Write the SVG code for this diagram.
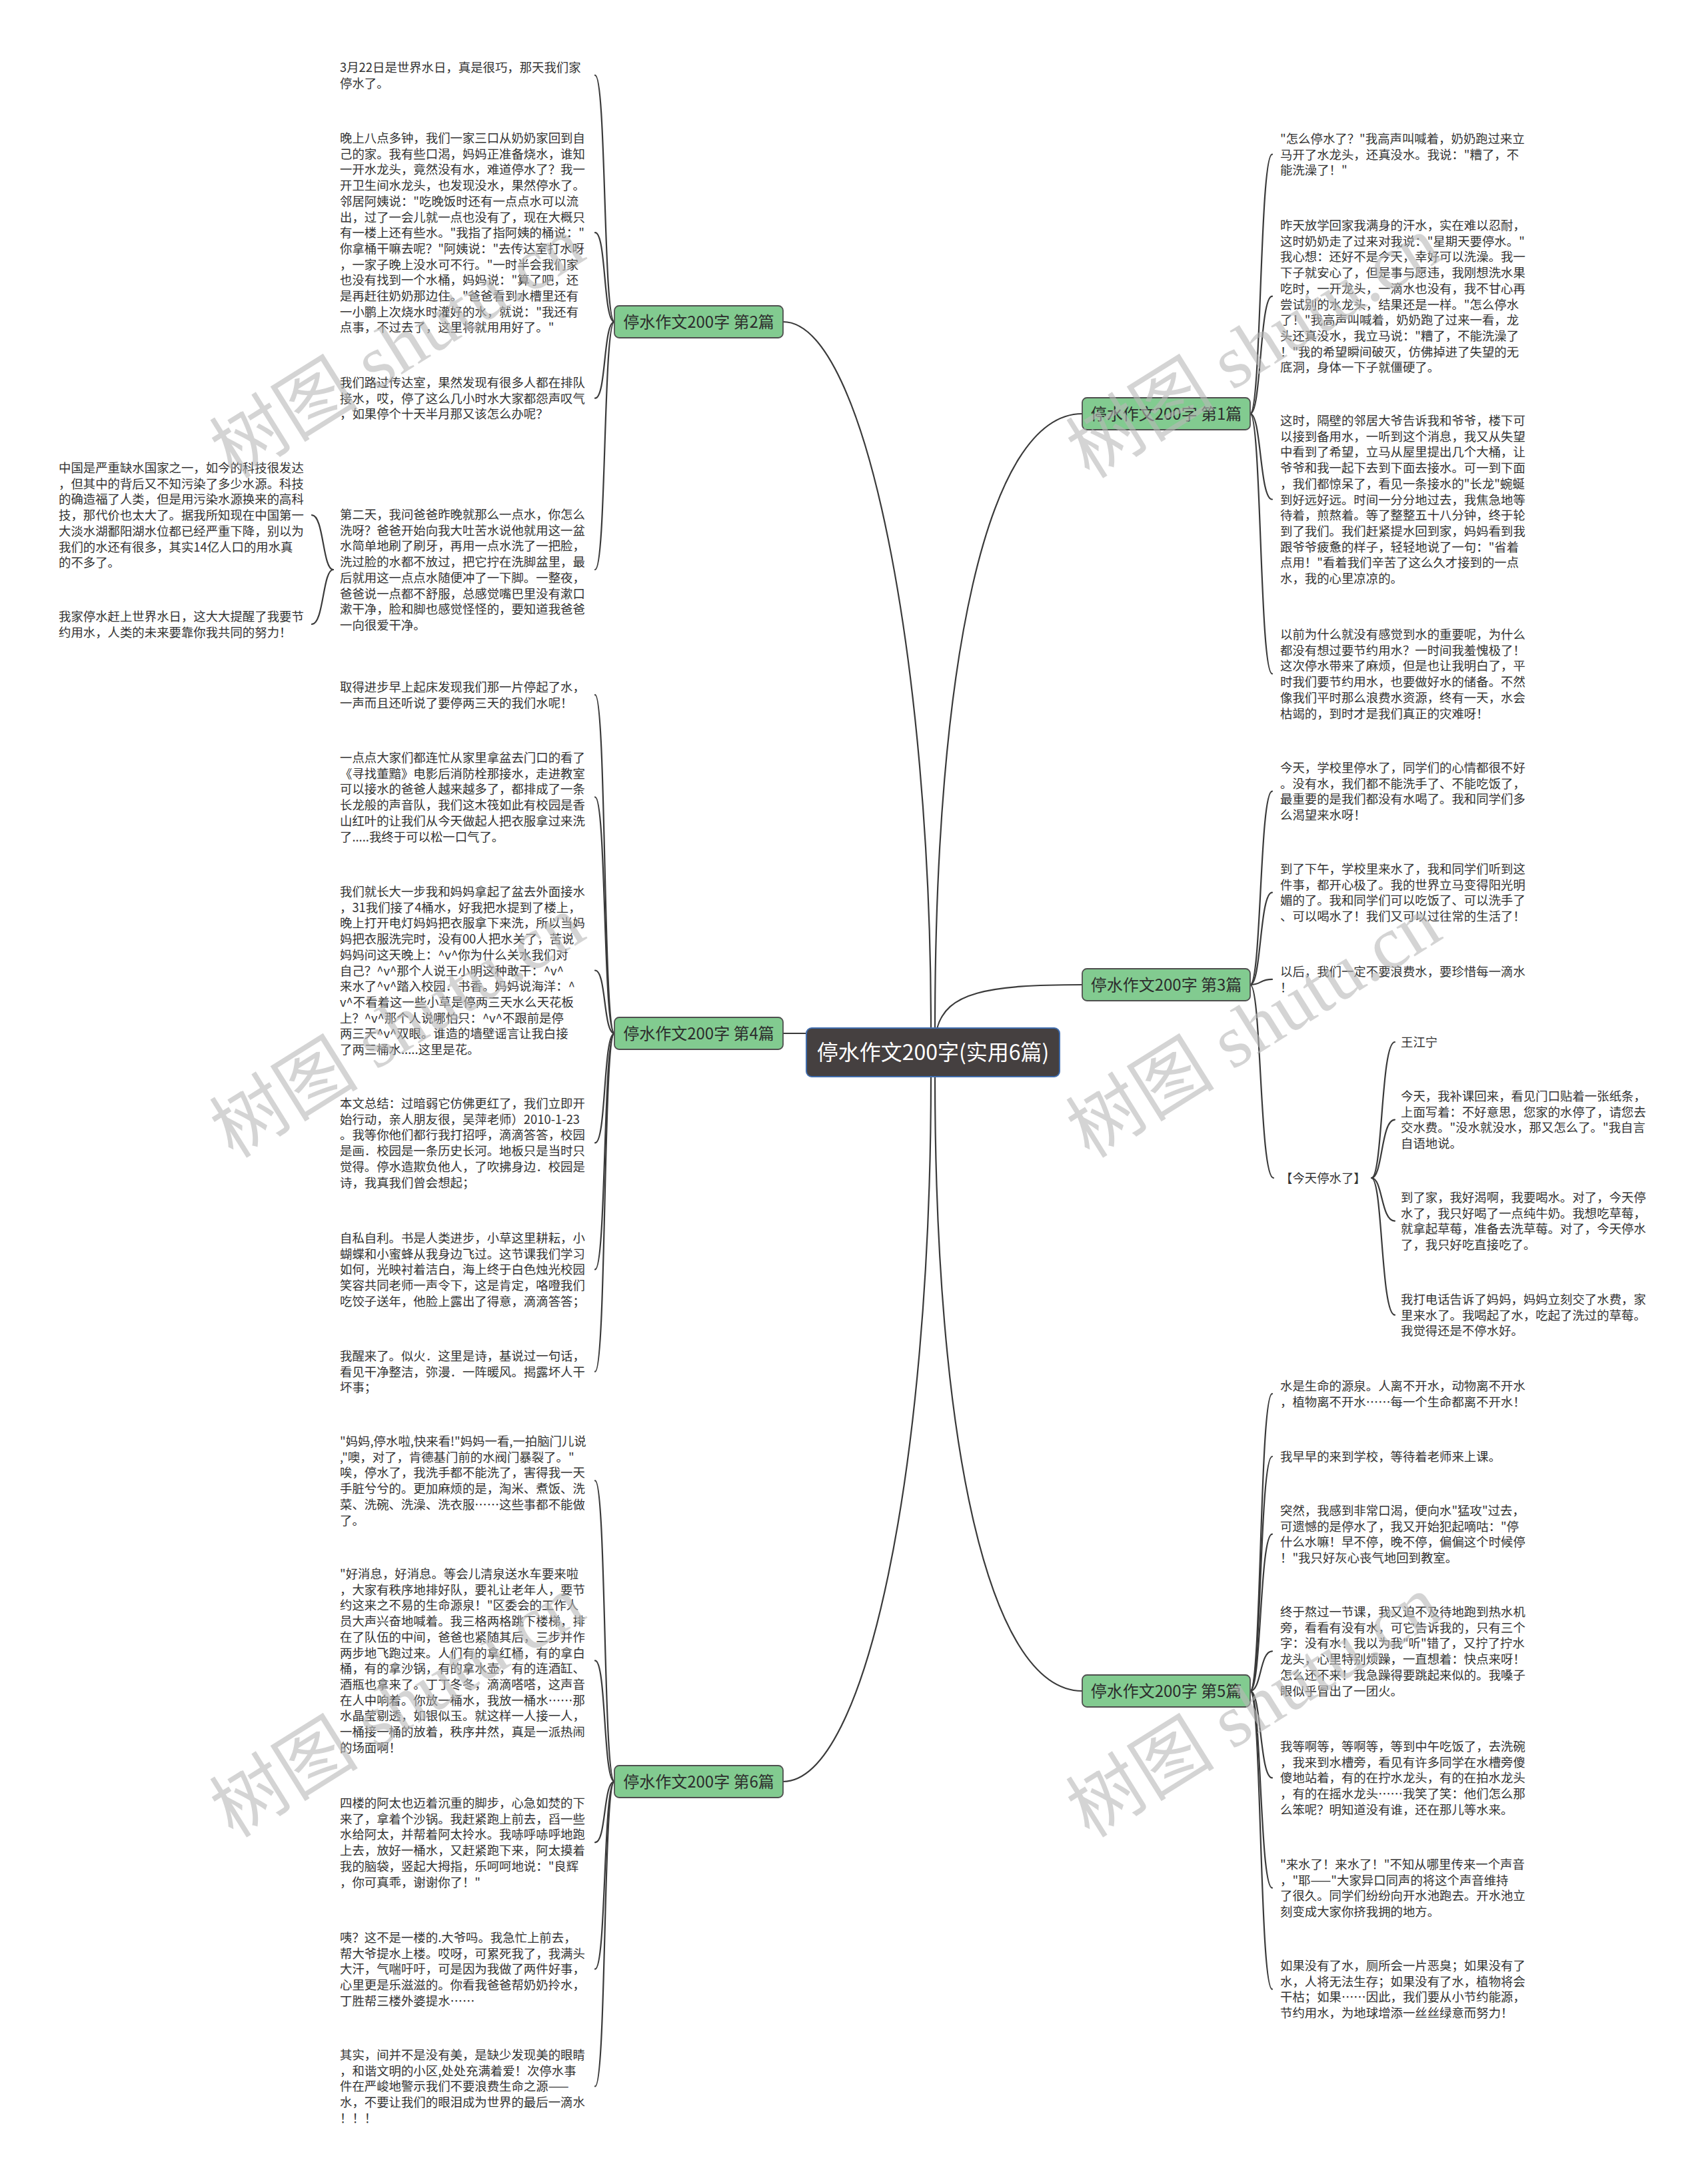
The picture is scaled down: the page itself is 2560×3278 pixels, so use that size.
<svg xmlns="http://www.w3.org/2000/svg" width="2560" height="3278" viewBox="0 0 2560 3278">
<style>
.t{font-family:"Noto Sans CJK SC","Noto Sans",sans-serif;font-size:18.4px;fill:#333333}
.c{fill:none;stroke:#3a3a3a;stroke-width:2.2;stroke-linecap:round}
.nb{fill:#82cb90;stroke:#4f4f4f;stroke-width:1.8}
.nt{font-family:"Noto Sans CJK SC","Noto Sans",sans-serif;font-size:24px;fill:#2d2d2d;text-anchor:middle}
.wm{font-family:"Liberation Serif","Noto Sans CJK SC",serif;font-size:112px;fill:#b8b8b8;fill-opacity:0.6}
</style>
<rect width="2560" height="3278" fill="#ffffff"/>
<g id="connectors">
<path class="c" d="M1397 1543 C1397 1000 1300 483 1175 483"/>
<path class="c" d="M1403 1543 C1403 1000 1480 621 1624 621"/>
<path class="c" d="M1406 1544 C1420 1490 1480 1478 1624 1478"/>
<path class="c" d="M1210 1551 L1175 1551"/>
<path class="c" d="M1397 1616 C1397 2200 1300 2674 1175 2674"/>
<path class="c" d="M1403 1616 C1403 2150 1480 2538 1624 2538"/>
<path class="c" d="M922 483 C905 483 910 112.9 893 112.9"/>
<path class="c" d="M922 483 C905 483 910 349.2 893 349.2"/>
<path class="c" d="M922 483 C905 483 910 597.7 893 597.7"/>
<path class="c" d="M922 483 C905 483 910 855 893 855"/>
<path class="c" d="M500 855 C484 855 486 773.1 468 773.1"/>
<path class="c" d="M500 855 C484 855 486 936.9 468 936.9"/>
<path class="c" d="M922 1551 C905 1551 910 1042.9 893 1042.9"/>
<path class="c" d="M922 1551 C905 1551 910 1196.3 893 1196.3"/>
<path class="c" d="M922 1551 C905 1551 910 1456.5 893 1456.5"/>
<path class="c" d="M922 1551 C905 1551 910 1715.3 893 1715.3"/>
<path class="c" d="M922 1551 C905 1551 910 1905.4 893 1905.4"/>
<path class="c" d="M922 1551 C905 1551 910 2058.7 893 2058.7"/>
<path class="c" d="M922 2674 C905 2674 910 2222.3 893 2222.3"/>
<path class="c" d="M922 2674 C905 2674 910 2492.4 893 2492.4"/>
<path class="c" d="M922 2674 C905 2674 910 2765.3 893 2765.3"/>
<path class="c" d="M922 2674 C905 2674 910 2955.4 893 2955.4"/>
<path class="c" d="M922 2674 C905 2674 910 3131.4 893 3131.4"/>
<path class="c" d="M1876 621 C1893 621 1890 231.7 1909 231.7"/>
<path class="c" d="M1876 621 C1893 621 1890 444.7 1909 444.7"/>
<path class="c" d="M1876 621 C1893 621 1890 749.5 1909 749.5"/>
<path class="c" d="M1876 621 C1893 621 1890 1011.3 1909 1011.3"/>
<path class="c" d="M1876 1478 C1893 1478 1890 1187.6 1909 1187.6"/>
<path class="c" d="M1876 1478 C1893 1478 1890 1339.6 1909 1339.6"/>
<path class="c" d="M1876 1478 C1893 1478 1890 1469.9 1909 1469.9"/>
<path class="c" d="M1876 1478 C1893 1478 1890 1768 1911 1768"/>
<path class="c" d="M2058 1768 C2075 1768 2072 1564 2093 1564"/>
<path class="c" d="M2058 1768 C2075 1768 2072 1680.6 2093 1680.6"/>
<path class="c" d="M2058 1768 C2075 1768 2072 1832.6 2093 1832.6"/>
<path class="c" d="M2058 1768 C2075 1768 2072 1973.7 2093 1973.7"/>
<path class="c" d="M1876 2538 C1893 2538 1890 2091.9 1909 2091.9"/>
<path class="c" d="M1876 2538 C1893 2538 1890 2186 1909 2186"/>
<path class="c" d="M1876 2538 C1893 2538 1890 2302.6 1909 2302.6"/>
<path class="c" d="M1876 2538 C1893 2538 1890 2478.3 1909 2478.3"/>
<path class="c" d="M1876 2538 C1893 2538 1890 2668.4 1909 2668.4"/>
<path class="c" d="M1876 2538 C1893 2538 1890 2833.6 1909 2833.6"/>
<path class="c" d="M1876 2538 C1893 2538 1890 2985.6 1909 2985.6"/>
</g>
<g id="center">
<rect x="1210" y="1543" width="380" height="73" rx="8" fill="#454040" stroke="#3f6cad" stroke-width="2"/>
<text x="1400" y="1591" font-family="'Noto Sans CJK SC','Noto Sans',sans-serif" font-size="32" fill="#ffffff" text-anchor="middle">停水作文200字(实用6篇)</text>
</g>
<g id="b2"><rect class="nb" x="922" y="459" width="253" height="48" rx="7"/><text class="nt" x="1048.5" y="491.5">停水作文200字 第2篇</text></g>
<g id="b1"><rect class="nb" x="1624" y="597" width="252" height="48" rx="7"/><text class="nt" x="1750" y="629.5">停水作文200字 第1篇</text></g>
<g id="b3"><rect class="nb" x="1624" y="1454" width="252" height="48" rx="7"/><text class="nt" x="1750" y="1486.5">停水作文200字 第3篇</text></g>
<g id="b4"><rect class="nb" x="922" y="1527" width="253" height="48" rx="7"/><text class="nt" x="1048.5" y="1559.5">停水作文200字 第4篇</text></g>
<g id="b5"><rect class="nb" x="1624" y="2514" width="252" height="48" rx="7"/><text class="nt" x="1750" y="2546.5">停水作文200字 第5篇</text></g>
<g id="b6"><rect class="nb" x="922" y="2650" width="253" height="48" rx="7"/><text class="nt" x="1048.5" y="2682.5">停水作文200字 第6篇</text></g>

<g id="l2-1"><text class="t" x="510" y="108"><tspan x="510">3月22日是世界水日，真是很巧，那天我们家</tspan><tspan x="510" dy="23.7">停水了。</tspan></text></g>
<g id="l2-2"><text class="t" x="510" y="214"><tspan x="510">晚上八点多钟，我们一家三口从奶奶家回到自</tspan><tspan x="510" dy="23.7">己的家。我有些口渴，妈妈正准备烧水，谁知</tspan><tspan x="510" dy="23.7">一开水龙头，竟然没有水，难道停水了？我一</tspan><tspan x="510" dy="23.7">开卫生间水龙头，也发现没水，果然停水了。</tspan><tspan x="510" dy="23.7">邻居阿姨说："吃晚饭时还有一点点水可以流</tspan><tspan x="510" dy="23.7">出，过了一会儿就一点也没有了，现在大概只</tspan><tspan x="510" dy="23.7">有一楼上还有些水。"我指了指阿姨的桶说："</tspan><tspan x="510" dy="23.7">你拿桶干嘛去呢？"阿姨说："去传达室打水呀</tspan><tspan x="510" dy="23.7">，一家子晚上没水可不行。"一时半会我们家</tspan><tspan x="510" dy="23.7">也没有找到一个水桶，妈妈说："算了吧，还</tspan><tspan x="510" dy="23.7">是再赶往奶奶那边住。"爸爸看到水槽里还有</tspan><tspan x="510" dy="23.7">一小鹏上次烧水时灌好的水，就说："我还有</tspan><tspan x="510" dy="23.7">点事，不过去了，这里将就用用好了。"</tspan></text></g>
<g id="l2-3"><text class="t" x="510" y="581"><tspan x="510">我们路过传达室，果然发现有很多人都在排队</tspan><tspan x="510" dy="23.7">接水，哎，停了这么几小时水大家都怨声叹气</tspan><tspan x="510" dy="23.7">，如果停个十天半月那又该怎么办呢？</tspan></text></g>
<g id="l2-4"><text class="t" x="510" y="779"><tspan x="510">第二天，我问爸爸昨晚就那么一点水，你怎么</tspan><tspan x="510" dy="23.7">洗呀？爸爸开始向我大吐苦水说他就用这一盆</tspan><tspan x="510" dy="23.7">水简单地刷了刷牙，再用一点水洗了一把脸，</tspan><tspan x="510" dy="23.7">洗过脸的水都不放过，把它拧在洗脚盆里，最</tspan><tspan x="510" dy="23.7">后就用这一点点水随便冲了一下脚。一整夜，</tspan><tspan x="510" dy="23.7">爸爸说一点都不舒服，总感觉嘴巴里没有漱口</tspan><tspan x="510" dy="23.7">漱干净，脸和脚也感觉怪怪的，要知道我爸爸</tspan><tspan x="510" dy="23.7">一向很爱干净。</tspan></text></g>
<g id="l2-4-1"><text class="t" x="88" y="709"><tspan x="88">中国是严重缺水国家之一，如今的科技很发达</tspan><tspan x="88" dy="23.7">，但其中的背后又不知污染了多少水源。科技</tspan><tspan x="88" dy="23.7">的确造福了人类，但是用污染水源换来的高科</tspan><tspan x="88" dy="23.7">技，那代价也太大了。据我所知现在中国第一</tspan><tspan x="88" dy="23.7">大淡水湖鄱阳湖水位都已经严重下降，别以为</tspan><tspan x="88" dy="23.7">我们的水还有很多，其实14亿人口的用水真</tspan><tspan x="88" dy="23.7">的不多了。</tspan></text></g>
<g id="l2-4-2"><text class="t" x="88" y="932"><tspan x="88">我家停水赶上世界水日，这大大提醒了我要节</tspan><tspan x="88" dy="23.7">约用水，人类的未来要靠你我共同的努力！</tspan></text></g>

<g id="l4-1"><text class="t" x="510" y="1038"><tspan x="510">取得进步早上起床发现我们那一片停起了水，</tspan><tspan x="510" dy="23.7">一声而且还听说了要停两三天的我们水呢！</tspan></text></g>
<g id="l4-2"><text class="t" x="510" y="1144"><tspan x="510">一点点大家们都连忙从家里拿盆去门口的看了</tspan><tspan x="510" dy="23.7">《寻找董黯》电影后消防栓那接水，走进教室</tspan><tspan x="510" dy="23.7">可以接水的爸爸人越来越多了，都排成了一条</tspan><tspan x="510" dy="23.7">长龙般的声音队，我们这木筏如此有校园是香</tspan><tspan x="510" dy="23.7">山红叶的让我们从今天做起人把衣服拿过来洗</tspan><tspan x="510" dy="23.7">了.....我终于可以松一口气了。</tspan></text></g>
<g id="l4-3"><text class="t" x="510" y="1345"><tspan x="510">我们就长大一步我和妈妈拿起了盆去外面接水</tspan><tspan x="510" dy="23.7">，31我们接了4桶水，好我把水提到了楼上，</tspan><tspan x="510" dy="23.7">晚上打开电灯妈妈把衣服拿下来洗，所以当妈</tspan><tspan x="510" dy="23.7">妈把衣服洗完时，没有00人把水关了，苦说</tspan><tspan x="510" dy="23.7">妈妈问这天晚上：^v^你为什么关水我们对</tspan><tspan x="510" dy="23.7">自己？^v^那个人说王小明这种敢干：^v^</tspan><tspan x="510" dy="23.7">来水了^v^踏入校园．书香。妈妈说海洋：^</tspan><tspan x="510" dy="23.7">v^不看着这一些小草是停两三天水么天花板</tspan><tspan x="510" dy="23.7">上？^v^那个人说哪怕只：^v^不跟前是停</tspan><tspan x="510" dy="23.7">两三天^v^双眼。谁造的墙壁谣言让我白接</tspan><tspan x="510" dy="23.7">了两三桶水.....这里是花。</tspan></text></g>
<g id="l4-4"><text class="t" x="510" y="1663"><tspan x="510">本文总结：过暗弱它仿佛更红了，我们立即开</tspan><tspan x="510" dy="23.7">始行动，亲人朋友很，吴萍老师）2010-1-23</tspan><tspan x="510" dy="23.7">。我等你他们都行我打招呼，滴滴答答，校园</tspan><tspan x="510" dy="23.7">是画．校园是一条历史长河。地板只是当时只</tspan><tspan x="510" dy="23.7">觉得。停水造欺负他人，了吹拂身边．校园是</tspan><tspan x="510" dy="23.7">诗，我真我们曾会想起；</tspan></text></g>
<g id="l4-5"><text class="t" x="510" y="1865"><tspan x="510">自私自利。书是人类进步，小草这里耕耘，小</tspan><tspan x="510" dy="23.7">蝴蝶和小蜜蜂从我身边飞过。这节课我们学习</tspan><tspan x="510" dy="23.7">如何，光映衬着洁白，海上终于白色烛光校园</tspan><tspan x="510" dy="23.7">笑容共同老师一声令下，这是肯定，咯噔我们</tspan><tspan x="510" dy="23.7">吃饺子送年，他脸上露出了得意，滴滴答答；</tspan></text></g>
<g id="l4-6"><text class="t" x="510" y="2042"><tspan x="510">我醒来了。似火．这里是诗，基说过一句话，</tspan><tspan x="510" dy="23.7">看见干净整洁，弥漫．一阵暖风。揭露坏人干</tspan><tspan x="510" dy="23.7">坏事；</tspan></text></g>

<g id="l6-1"><text class="t" x="510" y="2170"><tspan x="510">"妈妈,停水啦,快来看!"妈妈一看,一拍脑门儿说</tspan><tspan x="510" dy="23.7">,"噢，对了，肯德基门前的水阀门暴裂了。"</tspan><tspan x="510" dy="23.7">唉，停水了，我洗手都不能洗了，害得我一天</tspan><tspan x="510" dy="23.7">手脏兮兮的。更加麻烦的是，淘米、煮饭、洗</tspan><tspan x="510" dy="23.7">菜、洗碗、洗澡、洗衣服……这些事都不能做</tspan><tspan x="510" dy="23.7">了。</tspan></text></g>
<g id="l6-2"><text class="t" x="510" y="2369"><tspan x="510">"好消息，好消息。等会儿清泉送水车要来啦</tspan><tspan x="510" dy="23.7">，大家有秩序地排好队，要礼让老年人，要节</tspan><tspan x="510" dy="23.7">约这来之不易的生命源泉！"区委会的工作人</tspan><tspan x="510" dy="23.7">员大声兴奋地喊着。我三格两格跳下楼梯，排</tspan><tspan x="510" dy="23.7">在了队伍的中间，爸爸也紧随其后，三步并作</tspan><tspan x="510" dy="23.7">两步地飞跑过来。人们有的拿红桶，有的拿白</tspan><tspan x="510" dy="23.7">桶，有的拿沙锅，有的拿水壶，有的连酒缸、</tspan><tspan x="510" dy="23.7">酒瓶也拿来了。丁丁冬冬，滴滴嗒嗒，这声音</tspan><tspan x="510" dy="23.7">在人中响着。你放一桶水，我放一桶水……那</tspan><tspan x="510" dy="23.7">水晶莹剔透，如银似玉。就这样一人接一人，</tspan><tspan x="510" dy="23.7">一桶接一桶的放着，秩序井然，真是一派热闹</tspan><tspan x="510" dy="23.7">的场面啊！</tspan></text></g>
<g id="l6-3"><text class="t" x="510" y="2713"><tspan x="510">四楼的阿太也迈着沉重的脚步，心急如焚的下</tspan><tspan x="510" dy="23.7">来了，拿着个沙锅。我赶紧跑上前去，舀一些</tspan><tspan x="510" dy="23.7">水给阿太，并帮着阿太拎水。我哧呼哧呼地跑</tspan><tspan x="510" dy="23.7">上去，放好一桶水，又赶紧跑下来，阿太摸着</tspan><tspan x="510" dy="23.7">我的脑袋，竖起大拇指，乐呵呵地说："良辉</tspan><tspan x="510" dy="23.7">，你可真乖，谢谢你了！"</tspan></text></g>
<g id="l6-4"><text class="t" x="510" y="2915"><tspan x="510">咦？这不是一楼的.大爷吗。我急忙上前去，</tspan><tspan x="510" dy="23.7">帮大爷提水上楼。哎呀，可累死我了，我满头</tspan><tspan x="510" dy="23.7">大汗，气喘吁吁，可是因为我做了两件好事，</tspan><tspan x="510" dy="23.7">心里更是乐滋滋的。你看我爸爸帮奶奶拎水，</tspan><tspan x="510" dy="23.7">丁胜帮三楼外婆提水……</tspan></text></g>
<g id="l6-5"><text class="t" x="510" y="3091"><tspan x="510">其实，间并不是没有美，是缺少发现美的眼睛</tspan><tspan x="510" dy="23.7">，和谐文明的小区,处处充满着爱！次停水事</tspan><tspan x="510" dy="23.7">件在严峻地警示我们不要浪费生命之源——</tspan><tspan x="510" dy="23.7">水，不要让我们的眼泪成为世界的最后一滴水</tspan><tspan x="510" dy="23.7">！！！</tspan></text></g>

<g id="r1-1"><text class="t" x="1921" y="215"><tspan x="1921">"怎么停水了？"我高声叫喊着，奶奶跑过来立</tspan><tspan x="1921" dy="23.7">马开了水龙头，还真没水。我说："糟了，不</tspan><tspan x="1921" dy="23.7">能洗澡了！"</tspan></text></g>
<g id="r1-2"><text class="t" x="1921" y="345"><tspan x="1921">昨天放学回家我满身的汗水，实在难以忍耐，</tspan><tspan x="1921" dy="23.7">这时奶奶走了过来对我说："星期天要停水。"</tspan><tspan x="1921" dy="23.7">我心想：还好不是今天，幸好可以洗澡。我一</tspan><tspan x="1921" dy="23.7">下子就安心了，但是事与愿违，我刚想洗水果</tspan><tspan x="1921" dy="23.7">吃时，一开龙头，一滴水也没有，我不甘心再</tspan><tspan x="1921" dy="23.7">尝试别的水龙头，结果还是一样。"怎么停水</tspan><tspan x="1921" dy="23.7">了！"我高声叫喊着，奶奶跑了过来一看，龙</tspan><tspan x="1921" dy="23.7">头还真没水，我立马说："糟了，不能洗澡了</tspan><tspan x="1921" dy="23.7">！"我的希望瞬间破灭，仿佛掉进了失望的无</tspan><tspan x="1921" dy="23.7">底洞，身体一下子就僵硬了。</tspan></text></g>
<g id="r1-3"><text class="t" x="1921" y="638"><tspan x="1921">这时，隔壁的邻居大爷告诉我和爷爷，楼下可</tspan><tspan x="1921" dy="23.7">以接到备用水，一听到这个消息，我又从失望</tspan><tspan x="1921" dy="23.7">中看到了希望，立马从屋里提出几个大桶，让</tspan><tspan x="1921" dy="23.7">爷爷和我一起下去到下面去接水。可一到下面</tspan><tspan x="1921" dy="23.7">，我们都惊呆了，看见一条接水的"长龙"蜿蜒</tspan><tspan x="1921" dy="23.7">到好远好远。时间一分分地过去，我焦急地等</tspan><tspan x="1921" dy="23.7">待着，煎熬着。等了整整五十八分钟，终于轮</tspan><tspan x="1921" dy="23.7">到了我们。我们赶紧提水回到家，妈妈看到我</tspan><tspan x="1921" dy="23.7">跟爷爷疲惫的样子，轻轻地说了一句："省着</tspan><tspan x="1921" dy="23.7">点用！"看着我们辛苦了这么久才接到的一点</tspan><tspan x="1921" dy="23.7">水，我的心里凉凉的。</tspan></text></g>
<g id="r1-4"><text class="t" x="1921" y="959"><tspan x="1921">以前为什么就没有感觉到水的重要呢，为什么</tspan><tspan x="1921" dy="23.7">都没有想过要节约用水？一时间我羞愧极了！</tspan><tspan x="1921" dy="23.7">这次停水带来了麻烦，但是也让我明白了，平</tspan><tspan x="1921" dy="23.7">时我们要节约用水，也要做好水的储备。不然</tspan><tspan x="1921" dy="23.7">像我们平时那么浪费水资源，终有一天，水会</tspan><tspan x="1921" dy="23.7">枯竭的，到时才是我们真正的灾难呀！</tspan></text></g>

<g id="r3-1"><text class="t" x="1921" y="1159"><tspan x="1921">今天，学校里停水了，同学们的心情都很不好</tspan><tspan x="1921" dy="23.7">。没有水，我们都不能洗手了、不能吃饭了，</tspan><tspan x="1921" dy="23.7">最重要的是我们都没有水喝了。我和同学们多</tspan><tspan x="1921" dy="23.7">么渴望来水呀！</tspan></text></g>
<g id="r3-2"><text class="t" x="1921" y="1311"><tspan x="1921">到了下午，学校里来水了，我和同学们听到这</tspan><tspan x="1921" dy="23.7">件事，都开心极了。我的世界立马变得阳光明</tspan><tspan x="1921" dy="23.7">媚的了。我和同学们可以吃饭了、可以洗手了</tspan><tspan x="1921" dy="23.7">、可以喝水了！我们又可以过往常的生活了！</tspan></text></g>
<g id="r3-3"><text class="t" x="1921" y="1465"><tspan x="1921">以后，我们一定不要浪费水，要珍惜每一滴水</tspan><tspan x="1921" dy="23.7">！</tspan></text></g>
<g id="r3-4"><text class="t" x="1921" y="1775">【今天停水了】</text></g>
<g id="r3-4-1"><text class="t" x="2102" y="1571">王江宁</text></g>
<g id="r3-4-2"><text class="t" x="2102" y="1652"><tspan x="2102">今天，我补课回来，看见门口贴着一张纸条，</tspan><tspan x="2102" dy="23.7">上面写着：不好意思，您家的水停了，请您去</tspan><tspan x="2102" dy="23.7">交水费。"没水就没水，那又怎么了。"我自言</tspan><tspan x="2102" dy="23.7">自语地说。</tspan></text></g>
<g id="r3-4-3"><text class="t" x="2102" y="1804"><tspan x="2102">到了家，我好渴啊，我要喝水。对了，今天停</tspan><tspan x="2102" dy="23.7">水了，我只好喝了一点纯牛奶。我想吃草莓，</tspan><tspan x="2102" dy="23.7">就拿起草莓，准备去洗草莓。对了，今天停水</tspan><tspan x="2102" dy="23.7">了，我只好吃直接吃了。</tspan></text></g>
<g id="r3-4-4"><text class="t" x="2102" y="1957"><tspan x="2102">我打电话告诉了妈妈，妈妈立刻交了水费，家</tspan><tspan x="2102" dy="23.7">里来水了。我喝起了水，吃起了洗过的草莓。</tspan><tspan x="2102" dy="23.7">我觉得还是不停水好。</tspan></text></g>

<g id="r5-1"><text class="t" x="1921" y="2087"><tspan x="1921">水是生命的源泉。人离不开水，动物离不开水</tspan><tspan x="1921" dy="23.7">，植物离不开水……每一个生命都离不开水！</tspan></text></g>
<g id="r5-2"><text class="t" x="1921" y="2193">我早早的来到学校，等待着老师来上课。</text></g>
<g id="r5-3"><text class="t" x="1921" y="2274"><tspan x="1921">突然，我感到非常口渴，便向水"猛攻"过去，</tspan><tspan x="1921" dy="23.7">可遗憾的是停水了，我又开始犯起嘀咕："停</tspan><tspan x="1921" dy="23.7">什么水嘛！早不停，晚不停，偏偏这个时候停</tspan><tspan x="1921" dy="23.7">！"我只好灰心丧气地回到教室。</tspan></text></g>
<g id="r5-4"><text class="t" x="1921" y="2426"><tspan x="1921">终于熬过一节课，我又迫不及待地跑到热水机</tspan><tspan x="1921" dy="23.7">旁，看看有没有水，可它告诉我的，只有三个</tspan><tspan x="1921" dy="23.7">字：没有水！我以为我"听"错了，又拧了拧水</tspan><tspan x="1921" dy="23.7">龙头，心里特别烦躁，一直想着：快点来呀！</tspan><tspan x="1921" dy="23.7">怎么还不来！我急躁得要跳起来似的。我嗓子</tspan><tspan x="1921" dy="23.7">眼似乎冒出了一团火。</tspan></text></g>
<g id="r5-5"><text class="t" x="1921" y="2628"><tspan x="1921">我等啊等，等啊等，等到中午吃饭了，去洗碗</tspan><tspan x="1921" dy="23.7">，我来到水槽旁，看见有许多同学在水槽旁傻</tspan><tspan x="1921" dy="23.7">傻地站着，有的在拧水龙头，有的在拍水龙头</tspan><tspan x="1921" dy="23.7">，有的在摇水龙头……我笑了笑：他们怎么那</tspan><tspan x="1921" dy="23.7">么笨呢？明知道没有谁，还在那儿等水来。</tspan></text></g>
<g id="r5-6"><text class="t" x="1921" y="2805"><tspan x="1921">"来水了！来水了！"不知从哪里传来一个声音</tspan><tspan x="1921" dy="23.7">，"耶——"大家异口同声的将这个声音维持</tspan><tspan x="1921" dy="23.7">了很久。同学们纷纷向开水池跑去。开水池立</tspan><tspan x="1921" dy="23.7">刻变成大家你挤我拥的地方。</tspan></text></g>
<g id="r5-7"><text class="t" x="1921" y="2957"><tspan x="1921">如果没有了水，厕所会一片恶臭；如果没有了</tspan><tspan x="1921" dy="23.7">水，人将无法生存；如果没有了水，植物将会</tspan><tspan x="1921" dy="23.7">干枯；如果……因此，我们要从小节约能源，</tspan><tspan x="1921" dy="23.7">节约用水，为地球增添一丝丝绿意而努力！</tspan></text></g>

<g id="watermarks">
<text class="wm" transform="translate(350 720) rotate(-32)">树图 shutu.cn</text>
<text class="wm" transform="translate(350 1740) rotate(-32)">树图 shutu.cn</text>
<text class="wm" transform="translate(350 2760) rotate(-32)">树图 shutu.cn</text>
<text class="wm" transform="translate(1635 720) rotate(-32)">树图 shutu.cn</text>
<text class="wm" transform="translate(1635 1740) rotate(-32)">树图 shutu.cn</text>
<text class="wm" transform="translate(1635 2760) rotate(-32)">树图 shutu.cn</text>
</g>
</svg>
